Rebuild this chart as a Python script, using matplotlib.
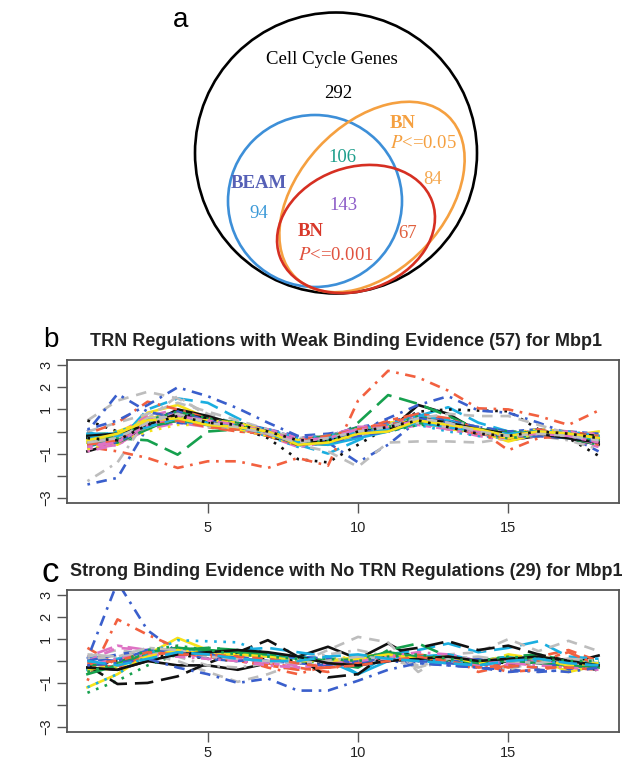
import matplotlib
matplotlib.use('Agg')
import matplotlib.pyplot as plt
from matplotlib.patches import Ellipse

plt.rcParams['font.family'] = ['Liberation Sans', 'DejaVu Sans']
plt.rcParams['mathtext.fontset'] = 'stix'

# ---- panel a: Venn counts ----
n_cell_cycle = 292
n_beam_only = 94
n_beam_bn05 = 106
n_all = 143
n_bn05_only = 84
n_bn001_only = 67

# ---- panels b, c: expression profiles over 18 time points ----
time_points = list(range(1, 19))
x_ticks = [5, 10, 15]
y_ticks = [3, 2, 1, 0, -1, -2, -3]
y_tick_labels = ['3', '2', '1', '', '\u22121', '', '\u22123']

weak_profiles = [
    [-0.9, -0.5, 0.2, 0.5, 0.3, 0.1, 0.0, -0.4, -0.3, 0.0, 0.0, 1.2, 0.8, 0.0, -0.4, -0.2, -0.2, -0.6],
    [-0.6, -0.4, 0.2, 0.6, 0.3, 0.2, -0.1, -0.6, -0.4, -0.1, 0.1, 0.4, 0.2, -0.1, -0.3, -0.1, -0.2, -0.5],
    [-0.3, -0.1, 0.6, 0.9, 0.5, 0.3, 0.0, -0.4, -0.3, 0.1, 0.3, 0.7, 0.4, 0.1, -0.1, 0.0, -0.1, -0.2],
    [-2.4, -2.1, 0.2, 0.6, 0.3, 0.1, -0.1, -0.6, -0.5, -1.4, -0.6, 0.5, 0.3, 0.0, -0.2, -0.1, -0.2, -0.9],
    [0.0, -0.5, 1.0, 1.5, 1.3, 0.6, -0.1, -0.6, -1.0, -0.4, 0.2, 0.7, 1.1, 0.4, 0.0, -0.2, -0.3, -0.4],
    [-0.8, -0.6, 0.1, 0.4, 0.2, 0.1, -0.2, -0.7, -0.5, -0.2, 0.0, 0.3, 0.1, -0.2, -0.4, -0.2, -0.3, -0.7],
    [-0.2, -0.6, 0.85, 1.2, 0.6, 0.2, -0.1, -0.4, -0.6, -0.1, 0.4, 0.5, 0.1, 0.0, -0.45, -0.1, -0.2, 0.0],
    [0.5, 1.4, 1.8, 1.5, 0.8, 0.3, 0.0, -0.6, -0.9, -1.6, -0.5, -0.45, -0.45, -0.5, -0.3, -0.1, -0.2, -0.4],
    [0.5, 0.0, 0.3, 0.6, 0.5, 0.2, -0.3, -1.25, -1.4, -0.6, 0.2, 0.9, 1.0, 0.95, 0.92, 0.1, -0.3, -1.1],
    [-0.7, -0.9, -1.2, -1.65, -1.35, -1.35, -1.65, -1.2, -1.55, 1.4, 2.75, 2.45, 1.85, 1.05, 1.0, 0.7, 0.3, 0.95],
    [-0.3, -0.3, -0.4, -1.05, 0.0, 0.1, -0.1, -0.5, -0.6, 0.4, 1.65, 1.25, 0.7, 0.1, 0.0, -0.1, -0.2, -0.4],
    [-0.2, -0.2, 0.5, 0.8, 0.6, 0.4, 0.1, -0.3, -0.2, 0.2, 0.4, 0.8, 0.5, 0.2, 0.0, 0.1, 0.0, -0.1],
    [-0.5, -0.3, 0.3, 0.5, 0.4, 0.2, 0.0, -0.5, -0.6, -0.3, 0.0, 0.4, 0.4, 0.0, -0.2, -0.1, -0.2, -0.4],
    [-0.4, -0.1, 0.7, 1.0, 0.5, 0.1, -0.1, -0.5, -0.3, 0.0, 0.2, 0.6, 0.2, -0.1, -0.3, 0.0, -0.1, -0.3],
    [-0.7, -0.5, 0.0, 0.3, 0.3, 0.3, 0.0, -0.3, -0.2, 0.1, 0.3, 0.5, 0.3, 0.1, -0.1, 0.1, 0.0, -0.2],
    [-2.25, -1.4, 0.6, 1.6, 0.7, 0.3, 0.0, -0.4, -0.3, -0.2, 0.3, 0.6, 0.5, 0.2, -0.1, -0.2, -0.4, -0.8],
    [-0.1, -0.4, 0.4, 0.8, 0.4, 0.2, -0.2, -0.6, -0.4, -0.1, 0.1, 0.5, 0.2, 0.0, -0.2, -0.2, -0.3, -0.6],
    [-0.5, -0.2, 0.5, 0.6, 0.2, 0.0, -0.1, -0.4, -0.5, 0.0, 0.5, 0.8, 0.6, 0.1, -0.3, -0.1, 0.0, -0.2],
    [-0.3, -0.3, 0.2, 0.9, 0.6, 0.4, 0.0, -0.6, -0.3, 0.2, 0.1, 0.4, 0.3, 0.0, -0.1, 0.0, -0.2, -0.4],
    [-0.6, -0.2, 0.3, 0.4, 0.3, 0.3, 0.1, -0.2, -0.1, 0.1, 0.2, 0.6, 0.5, 0.2, 0.0, -0.1, -0.3, -0.5],
    [-0.4, -0.5, 0.6, 0.7, 0.3, 0.1, -0.2, -0.7, -0.5, -0.2, 0.0, 0.3, 0.0, -0.2, -0.3, -0.2, -0.1, -0.3],
    [-0.9, -0.6, 0.2, 0.5, 0.4, 0.2, 0.0, -0.4, -0.3, 0.0, 0.2, 0.7, 0.4, 0.0, -0.2, 0.0, -0.1, -0.1],
    [-0.2, 0.0, 0.5, 0.7, 0.5, 0.3, -0.1, -0.5, -0.4, -0.1, 0.1, 0.5, 0.3, 0.1, -0.1, -0.1, -0.2, -0.4],
    [-0.5, -0.4, 0.4, 0.6, 0.2, 0.2, 0.0, -0.3, -0.2, 0.1, 0.3, 0.4, 0.2, -0.1, -0.2, 0.0, -0.2, -0.6],
    [-0.3, -0.2, 0.3, 1.0, 0.7, 0.3, 0.0, -0.5, -0.4, 0.0, 0.1, 0.6, 0.4, 0.0, -0.3, -0.1, -0.1, -0.3],
    [-0.6, -0.3, 0.5, 0.5, 0.3, 0.1, -0.2, -0.6, -0.5, -0.1, 0.2, 0.5, 0.2, 0.0, -0.2, 0.1, -0.2, -0.2],
    [-0.4, -0.1, 0.2, 0.6, 0.4, 0.3, 0.1, -0.4, -0.3, 0.1, 0.0, 0.3, 0.3, 0.1, 0.0, -0.1, -0.3, -0.5],
    [0.0, 1.7, 0.9, 0.6, 0.3, 0.2, -0.1, -0.4, -0.2, 0.0, 0.6, 1.2, 1.6, 0.95, 0.85, 0.4, -0.1, -0.6],
    [-0.7, -0.3, 0.4, 0.8, 0.5, 0.2, -0.1, -0.5, -0.2, 0.0, 0.3, 0.7, 0.5, 0.0, -0.2, -0.2, -0.2, -0.4],
    [-0.2, -0.4, 0.3, 0.5, 0.3, 0.3, 0.0, -0.4, -0.4, -0.1, 0.1, 0.4, 0.1, -0.1, -0.1, 0.0, 0.0, -0.3],
    [-0.5, -0.2, 0.6, 0.8, 0.4, 0.1, -0.1, -0.6, -0.3, 0.1, 0.2, 0.6, 0.3, 0.0, -0.3, -0.1, -0.1, -0.2],
    [0.0, 0.4, 0.8, 1.3, 0.9, 0.5, 0.1, -0.3, -0.2, 0.1, 0.3, 0.6, 0.8, 0.7, 0.7, 0.3, -0.1, -0.3],
    [-0.3, -0.3, 0.4, 0.6, 0.5, 0.4, 0.0, -0.3, -0.3, 0.0, 0.2, 0.5, 0.4, 0.1, -0.1, 0.0, -0.2, -0.5],
    [-0.1, 0.4, 1.35, 1.0, 0.6, 0.3, 0.0, -0.5, -0.3, 0.1, 0.4, 0.7, 0.3, 0.1, -0.85, -0.3, -0.2, -0.6],
    [-0.6, -0.5, 0.1, 0.7, 0.3, 0.2, -0.1, -0.5, -0.4, -0.1, 0.0, 0.4, 0.2, -0.1, -0.2, -0.1, -0.3, -0.6],
    [-0.4, -0.2, 0.5, 0.9, 0.4, 0.2, 0.0, -0.4, -0.3, 0.0, 0.3, 0.6, 0.3, 0.0, -0.2, 0.0, -0.1, -0.3],
    [-0.1, -0.1, 0.3, 0.5, 0.3, 0.2, 0.0, -0.5, -0.5, -0.1, 0.1, 0.5, 0.3, 0.0, -0.2, -0.1, -0.2, -0.2],
    [-0.5, -0.4, 0.2, 0.6, 0.5, 0.3, 0.1, -0.3, -0.2, 0.2, 0.3, 0.6, 0.4, 0.1, -0.1, 0.0, -0.1, -0.4],
    [-0.8, -0.4, 0.4, 0.7, 0.3, 0.1, -0.2, -0.6, -0.4, -0.1, 0.1, 0.4, 0.2, -0.1, -0.3, -0.1, -0.2, -0.5],
    [-0.3, -0.2, 0.6, 0.7, 0.4, 0.2, 0.0, -0.4, -0.3, 0.0, 0.2, 0.5, 0.3, 0.0, -0.2, 0.0, -0.2, -0.3],
    [-0.4, -0.3, 0.3, 0.8, 0.6, 0.3, -0.1, -0.5, -0.4, 0.0, 0.1, 0.6, 0.4, 0.0, -0.1, -0.1, -0.1, -0.2],
    [-0.6, -0.2, 0.5, 0.6, 0.3, 0.2, 0.0, -0.5, -0.3, 0.1, 0.3, 0.5, 0.2, -0.1, -0.3, -0.1, -0.2, -0.5],
    [-0.2, -0.3, 0.2, 0.5, 0.4, 0.3, 0.0, -0.4, -0.2, 0.0, 0.2, 0.4, 0.3, 0.1, -0.1, 0.0, -0.1, -0.3],
    [-0.5, -0.5, 0.3, 0.9, 0.5, 0.2, -0.1, -0.6, -0.5, -0.2, 0.0, 0.5, 0.3, 0.0, -0.2, -0.2, -0.3, -0.4],
    [-0.3, 0.0, 0.4, 0.6, 0.3, 0.3, 0.1, -0.3, -0.2, 0.1, 0.3, 0.7, 0.4, 0.1, -0.1, 0.0, 0.0, -0.2],
    [-0.7, -0.4, 0.5, 0.8, 0.4, 0.1, -0.1, -0.5, -0.4, 0.0, 0.1, 0.5, 0.2, -0.1, -0.2, -0.1, -0.2, -0.6],
    [-0.4, -0.2, 0.2, 0.6, 0.5, 0.4, 0.0, -0.4, -0.3, 0.0, 0.2, 0.6, 0.3, 0.0, -0.3, 0.0, -0.1, -0.3],
    [-0.5, -0.3, 0.6, 0.7, 0.3, 0.2, -0.1, -0.5, -0.3, -0.1, 0.2, 0.4, 0.2, 0.0, -0.2, -0.1, -0.2, -0.4],
    [-0.2, -0.1, 0.3, 0.8, 0.4, 0.2, 0.0, -0.6, -0.4, 0.0, 0.1, 0.6, 0.4, 0.1, -0.1, -0.1, -0.3, -0.5],
    [-0.6, -0.4, 0.4, 0.5, 0.2, 0.1, -0.1, -0.4, -0.2, 0.1, 0.3, 0.5, 0.3, 0.0, -0.2, 0.0, -0.1, -0.2],
    [-0.4, -0.3, 0.5, 0.9, 0.6, 0.3, 0.0, -0.5, -0.4, 0.0, 0.2, 0.7, 0.3, 0.0, -0.3, -0.1, -0.2, -0.4],
    [0.1, 0.5, 1.2, 2.0, 1.6, 1.05, 0.4, -0.2, -0.4, -0.1, 0.2, 0.6, 0.4, 0.0, -0.2, 0.0, -0.2, -0.5],
    [-0.3, -0.2, 0.2, 0.6, 0.4, 0.2, -0.1, -0.5, -0.3, 0.0, 0.1, 0.4, 0.2, 0.0, -0.1, 0.0, -0.2, -0.3],
    [-0.7, -0.5, 0.3, 0.7, 0.5, 0.3, 0.0, -0.4, -0.3, 0.1, 0.2, 0.5, 0.3, 0.0, -0.2, -0.1, -0.2, -0.5],
    [-0.4, -0.1, 0.5, 0.6, 0.3, 0.2, 0.0, -0.6, -0.5, -0.1, 0.0, 0.5, 0.3, 0.1, -0.2, 0.0, -0.1, -0.3],
    [-0.5, -0.3, 0.4, 0.8, 0.4, 0.2, -0.1, -0.5, -0.3, 0.0, 0.2, 0.6, 0.4, 0.0, -0.2, -0.1, -0.2, -0.4],
    [-0.3, -0.4, 0.3, 0.7, 0.4, 0.3, 0.0, -0.4, -0.4, 0.0, 0.2, 0.5, 0.2, -0.1, -0.2, 0.0, -0.1, -0.3],
]

strong_profiles = [
    [-0.3, -0.4, 0.0, -0.2, -0.2, -0.4, -0.1, 0.2, 0.65, 0.1, 0.8, 0.05, 0.05, -0.2, 0.0, 0.1, -0.1, 0.25],
    [0.6, -0.2, 0.3, 0.5, 0.3, 0.2, -0.1, -0.3, -0.5, 0.2, 0.3, 0.0, 0.2, -0.5, -0.2, 0.2, 0.5, 0.0],
    [-1.45, -0.9, -0.2, 0.3, 0.6, 0.5, 0.3, 0.0, -0.1, 0.0, 0.3, 0.2, 0.0, -0.1, 0.1, 0.0, -0.3, 0.1],
    [0.1, 3.6, 1.4, 0.4, 0.2, 0.1, 0.0, -0.1, -0.2, 0.1, 0.0, -0.1, -0.2, -0.3, -0.4, -0.5, -0.4, -0.3],
    [0.2, 0.1, 0.5, 0.4, 0.3, 0.5, 0.6, 0.4, 0.2, -0.6, 0.3, 0.5, 0.8, 0.4, 0.6, 0.9, 0.2, 0.1],
    [0.2, 0.7, 0.5, 0.3, 0.2, 0.0, -0.1, -0.3, -0.2, 0.0, 0.2, 0.1, 0.3, 0.0, -0.2, -0.1, -0.3, -0.2],
    [-1.2, -0.6, 0.3, 1.05, 0.5, 0.3, 0.2, 0.1, 0.0, 0.2, 0.3, 0.1, 0.2, 0.0, 0.2, 0.1, -0.5, -0.2],
    [0.2, 0.5, 0.3, 0.0, -0.5, -0.95, -0.6, -0.1, 0.5, 1.1, 0.85, -0.5, 0.3, 0.4, 1.0, 0.45, 0.92, 0.45],
    [-0.2, 0.0, 0.2, 0.3, 0.1, 0.0, 0.1, 0.0, -0.1, 0.1, 0.2, 0.0, 0.1, 0.0, -0.1, 0.0, -0.1, -0.2],
    [-0.9, 1.9, 1.2, 0.6, 0.3, 0.1, -0.3, -0.6, -0.2, 0.1, 0.2, 0.3, 0.1, -0.1, -0.5, -0.4, -0.2, -0.3],
    [-0.2, -0.1, 0.4, 0.5, 0.6, 0.5, 0.2, 0.0, -0.1, -0.3, 0.5, 0.8, 0.2, 0.0, 0.2, 0.3, 0.0, -0.1],
    [0.1, 0.0, 0.5, 0.4, 0.3, 0.2, 0.0, -0.1, -0.2, 0.0, 0.1, 0.0, -0.1, -0.2, 0.0, -0.1, -0.2, -0.3],
    [-0.4, -0.2, 0.3, 0.6, 0.4, 0.4, 0.3, 0.1, 0.0, -0.6, 0.0, 0.2, 0.3, 0.0, 0.2, 0.1, 0.0, -0.1],
    [0.0, 0.6, 0.5, 0.3, 0.2, 0.1, 0.0, -0.2, -0.3, -0.1, 0.1, 0.2, 0.0, -0.2, -0.1, 0.0, -0.2, -0.3],
    [-0.5, -0.3, 0.2, 0.5, 0.4, 0.3, 0.2, 0.1, 0.1, 0.2, 0.3, 0.2, 0.1, 0.0, 0.1, 0.2, 0.0, -0.1],
    [0.1, 0.2, 0.4, 0.2, -0.2, -0.3, -0.1, 0.1, 0.3, 0.5, 0.2, -0.2, 0.0, 0.1, -0.4, 0.0, 0.1, -0.2],
    [-0.2, -1.05, -1.0, -0.7, -0.1, 0.4, 0.95, 0.2, -0.75, -0.6, 0.4, 0.6, 0.9, 0.5, 0.7, 0.3, 0.0, -0.45],
    [-0.1, -0.3, 0.3, 0.4, 0.2, 0.0, -0.2, -0.4, -0.3, -0.1, 0.0, 0.1, 0.2, 0.0, -0.3, 0.0, 0.4, -0.2],
    [-0.6, -0.2, 0.4, 0.6, 0.5, 0.4, 0.3, 0.2, 0.0, 0.1, 0.4, 0.2, 0.1, -0.1, 0.0, -0.1, -0.2, -0.3],
    [0.0, 0.3, 0.5, 0.4, 0.1, 0.0, 0.1, 0.2, 0.1, -0.1, 0.0, 0.1, 0.0, 0.1, -0.2, -0.3, -0.1, -0.2],
    [-1.2, -0.6, 0.3, 0.95, 0.9, 0.85, 0.3, 0.2, 0.1, 0.0, 0.2, 0.1, 0.0, -0.1, 0.1, 0.0, -0.1, 0.0],
    [-0.2, 0.1, 0.3, 0.2, 0.1, 0.0, -0.2, -0.3, -0.1, 0.0, 0.2, 0.4, 0.3, 0.0, -0.1, -0.2, -0.3, -0.4],
    [-0.4, -0.2, 0.2, 0.5, 0.3, 0.3, 0.2, 0.0, 0.0, 0.1, 0.3, 0.1, 0.2, -0.1, 0.3, 0.1, -0.2, -0.1],
    [0.3, 0.2, 0.6, 0.5, 0.2, 0.1, 0.0, -0.1, 0.0, 0.2, 0.1, -0.3, 0.1, 0.2, 0.0, -0.1, 0.1, 0.0],
    [-0.3, -0.4, 0.0, 0.3, 0.4, 0.5, 0.4, 0.2, -0.1, -0.2, 0.0, 0.1, 0.2, 0.0, 0.1, 0.2, 0.0, -0.2],
    [-0.1, 0.0, 0.4, 0.3, 0.3, 0.2, 0.1, -0.1, -0.3, -0.2, 0.0, 0.2, 0.0, -0.3, -0.2, -0.3, -0.3, -0.4],
    [-0.5, -0.1, 0.5, 0.7, 0.5, 0.3, 0.2, 0.1, 0.1, 0.0, 0.2, 0.3, 0.1, 0.0, 0.2, 0.1, 0.0, 0.0],
    [-0.2, -0.1, 0.1, -0.3, -0.6, -1.0, -0.8, -1.35, -1.35, -0.9, -0.4, -0.1, -0.2, -0.3, -0.5, -0.4, -0.5, -0.3],
    [0.0, -0.2, 0.1, 0.4, 0.3, 0.1, 0.0, 0.0, 0.2, 0.3, 0.1, 0.0, -0.1, -0.2, 0.0, 0.1, -0.1, -0.2],
]

weak_title = "TRN Regulations with Weak Binding Evidence (57) for Mbp1"
strong_title = "Strong Binding Evidence with No TRN Regulations (29) for Mbp1"

# R-like matplot cycles (colours look softened in the print)
line_colors = ['#111111', '#f2603f', '#16a04e', '#3a5fcc',
               '#1aaee0', '#de72c4', '#f6e21a', '#bdbdbd']
line_styles = ['-', (0, (4, 3)), (0, (1, 2.5)), (0, (1, 2.5, 4, 2.5)),
               (0, (7, 3)), (0, (2, 2, 6, 2))]

W, H = 624, 760
fig = plt.figure(figsize=(W / 100, H / 100), dpi=100)

# ---------- panel a (pixel coordinates) ----------
av = fig.add_axes([0, 0, 1, 1])
av.set_xlim(0, W)
av.set_ylim(H, 0)
av.axis('off')

blue = '#3d8fd8'
orange = '#f5a040'
red = '#d62f22'
av.add_patch(Ellipse((336, 153), 282, 281, fill=False, ec='black', lw=1.9))
av.add_patch(Ellipse((315, 201), 174, 172, fill=False, ec=blue, lw=1.9))
av.add_patch(Ellipse((372, 197), 222, 146, angle=-47, fill=False, ec=orange, lw=1.9))
av.add_patch(Ellipse((356, 229), 162, 123, angle=-20, fill=False, ec=red, lw=1.9))

serif = 'Liberation Serif'
fs = 13.5
av.text(181, 20, 'a', fontsize=20, ha='center', va='center')
av.text(332, 60, 'Cell Cycle Genes', family=serif, fontsize=fs, ha='center', va='center')
av.text(338, 94, str(n_cell_cycle), family=serif, fontsize=fs, ha='center', va='center')
av.text(390, 123, 'BN', family=serif, fontsize=fs, weight='bold', color=orange, ha='left', va='center')
av.text(390, 144, r'$P$<=0.05', family=serif, fontsize=fs, color=orange, ha='left', va='center')
av.text(433, 180, str(n_bn05_only), family=serif, fontsize=fs, color='#f5a850', ha='center', va='center')
av.text(342, 157, str(n_beam_bn05), family=serif, fontsize=fs, color='#1e9e8c', ha='center', va='center')
av.text(259, 183, 'BEAM', family=serif, fontsize=fs, weight='bold', color='#5660b6', ha='center', va='center')
av.text(259, 214, str(n_beam_only), family=serif, fontsize=fs, color='#3d9ad8', ha='center', va='center')
av.text(343, 205, str(n_all), family=serif, fontsize=fs, color='#8d5cc8', ha='center', va='center')
av.text(298, 231, 'BN', family=serif, fontsize=fs, weight='bold', color='#d8382a', ha='left', va='center')
av.text(298, 256, r'$P$<=0.001', family=serif, fontsize=fs, color='#e0523f', ha='left', va='center')
av.text(408, 233, str(n_bn001_only), family=serif, fontsize=fs, color='#e0603f', ha='center', va='center')


def profile_panel(rect, profiles, xpad):
    ax = fig.add_axes(rect)
    for i, prof in enumerate(profiles):
        ax.plot(time_points, prof, color=line_colors[i % len(line_colors)],
                linestyle=line_styles[i % len(line_styles)], lw=1.9)
    ax.set_xlim(0.32, 18.68)
    ax.set_ylim(-3.24, 3.24)
    ax.set_xticks(x_ticks)
    ax.set_yticks(y_ticks)
    ax.set_yticklabels(y_tick_labels, rotation=90, va='center')
    ax.tick_params(length=7, width=1.0, color='#555555', labelsize=10.5,
                   labelcolor='#222222')
    ax.tick_params(axis='x', pad=xpad)
    ax.tick_params(axis='y', pad=3)
    for s in ax.spines.values():
        s.set_color('#555555')
        s.set_linewidth(1.3)
    return ax


ax_b = profile_panel([67 / W, 1 - 503 / H, 552 / W, 143 / H], weak_profiles, 6)
ax_c = profile_panel([67 / W, 1 - 732 / H, 552 / W, 142 / H], strong_profiles, 3)

fig.text(51 / W, 1 - 340 / H, 'b', fontsize=20, ha='center', va='center')
fig.text(346 / W, 1 - 342 / H, weak_title, fontsize=13, weight='bold',
         ha='center', va='center', color='#222222')
fig.text(50 / W, 1 - 572 / H, 'c', fontsize=25, ha='center', va='center')
fig.text(346 / W, 1 - 572 / H, strong_title, fontsize=13, weight='bold',
         ha='center', va='center', color='#222222')

fig.savefig('out.png', dpi=100)
